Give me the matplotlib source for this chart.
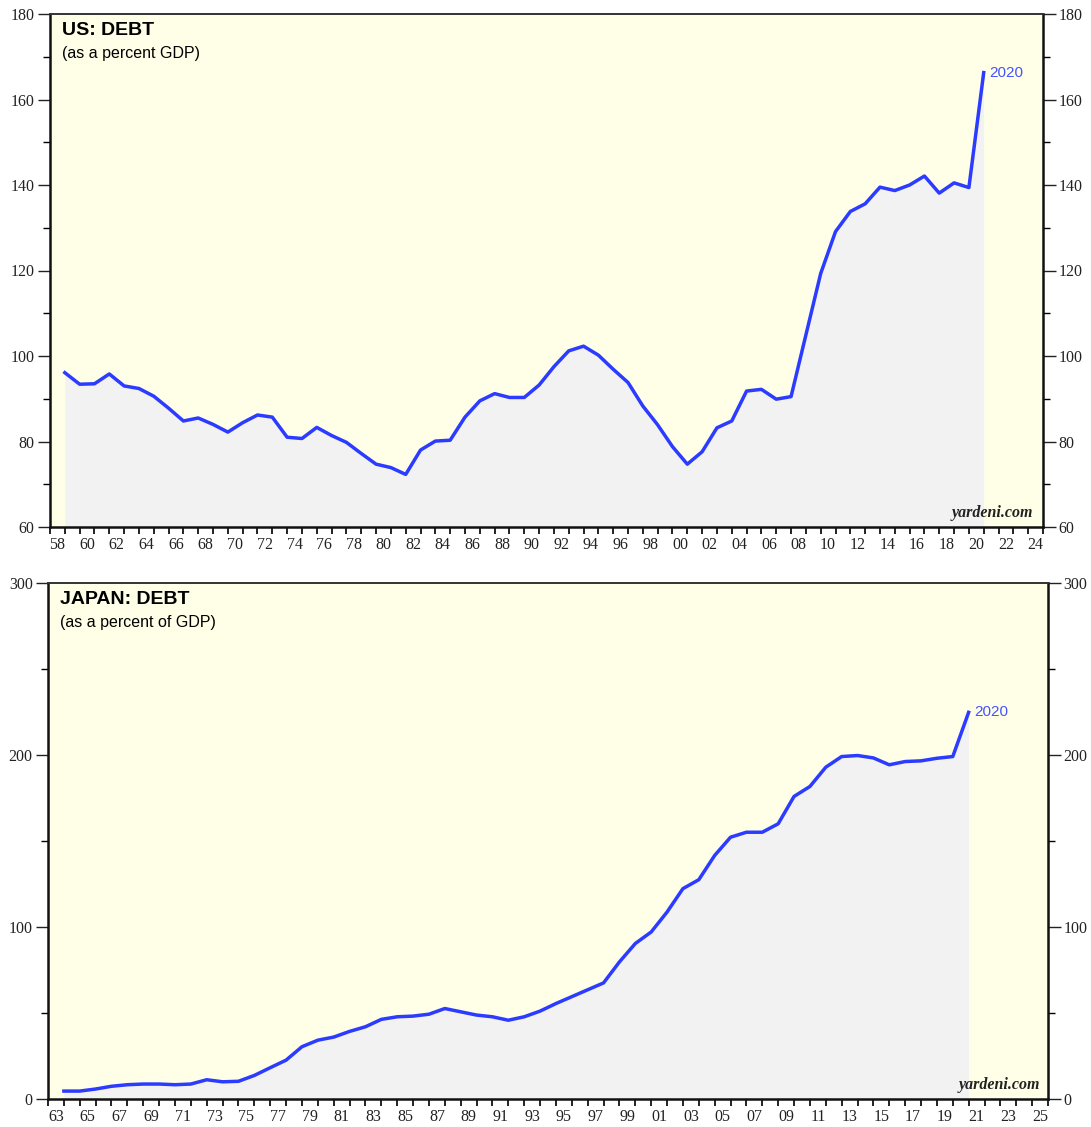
import numpy as np
import matplotlib
matplotlib.use("Agg")
import matplotlib.pyplot as plt
from matplotlib.ticker import MultipleLocator, FixedLocator, NullFormatter

# ---------------- data ----------------
us_years = list(range(1958, 2021))
us_debt = [96.1, 93.4, 93.5, 95.8, 93.0, 92.4, 90.6, 87.8, 84.8, 85.5,
           84.0, 82.2, 84.4, 86.2, 85.7, 81.0, 80.7, 83.3, 81.4, 79.8,
           77.2, 74.7, 73.9, 72.3, 78.0, 80.1, 80.3, 85.7, 89.5, 91.2,
           90.3, 90.3, 93.2, 97.5, 101.2, 102.3, 100.2, 96.9, 93.8, 88.3,
           83.9, 78.8, 74.7, 77.6, 83.2, 84.8, 91.8, 92.2, 89.9, 90.5,
           104.9, 119.3, 129.1, 133.8, 135.6, 139.5, 138.7, 140.0, 142.1, 138.1,
           140.5, 139.4, 166.3]

jp_years = list(range(1963, 2021))
jp_debt = [4.6, 4.6, 5.8, 7.4, 8.3, 8.7, 8.7, 8.3, 8.7, 11.2,
           10.0, 10.3, 13.7, 18.2, 22.6, 30.4, 34.2, 36.0, 39.3, 42.0,
           46.3, 47.8, 48.2, 49.3, 52.6, 50.7, 48.8, 47.8, 45.8, 47.8,
           51.1, 55.5, 59.5, 63.5, 67.5, 79.7, 90.4, 97.1, 108.7, 122.3,
           127.5, 141.6, 152.2, 155.1, 155.1, 160.0, 175.9, 181.7, 192.9, 199.1,
           199.7, 198.3, 194.3, 196.2, 196.6, 198.1, 199.1, 224.8]

us_title = "US: DEBT"
us_sub = "(as a percent GDP)"
jp_title = "JAPAN: DEBT"
jp_sub = "(as a percent of GDP)"
last_label = "2020"

# ---------------- style ----------------
BG = "#FFFFE8"
FILL = "#F2F2F2"
LINE = "#2B3BFF"
LBL = "#4353FF"
SERIF = "Liberation Serif"
SANS = "Liberation Sans"

fig = plt.figure(figsize=(10.91, 11.27), dpi=100)
fig.patch.set_facecolor("white")

W, H = 1091, 1127
def axes_px(l, t, r, b):
    return fig.add_axes([l / W, (H - b) / H, (r - l) / W, (b - t) / H])

ax1 = axes_px(50, 14, 1043, 527)
ax2 = axes_px(48, 583, 1048, 1099)


def style(ax, x0, x1, y0, y1, ymaj, ymin_, label_start):
    ax.set_facecolor(BG)
    ax.set_xlim(x0, x1)
    ax.set_ylim(y0, y1)
    for s in ax.spines.values():
        s.set_color("#111111")
        s.set_linewidth(1.8)
    ax.spines["top"].set_linewidth(1.4)
    ax.spines["top"].set_color("#333333")
    ax.yaxis.set_major_locator(MultipleLocator(ymaj))
    ax.yaxis.set_minor_locator(MultipleLocator(ymin_))
    ax.tick_params(axis="y", which="major", direction="out", length=9, width=1.0,
                   left=True, right=True, labelleft=True, labelright=True,
                   labelsize=11.5, colors="#222222", pad=2)
    ax.tick_params(axis="y", which="minor", direction="out", length=5, width=1.0,
                   left=True, right=True)
    yrs = np.arange(x0, x1 + 1)
    ax.xaxis.set_major_locator(FixedLocator(yrs))
    ax.xaxis.set_major_formatter(NullFormatter())
    ax.tick_params(axis="x", which="major", direction="out", length=5, width=1.3,
                   colors="#111111")
    lab_years = np.arange(label_start, x1, 2)
    ax.set_xticks(lab_years + 0.5, ["%02d" % (y % 100) for y in lab_years], minor=True)
    ax.tick_params(axis="x", which="minor", length=0, labelsize=11.5,
                   colors="#222222", pad=7)
    for t in ax.get_xticklabels(minor=True) + ax.get_yticklabels():
        t.set_fontfamily(SERIF)


def draw(ax, years, vals, y0):
    x = np.array(years) + 1.0  # plotted at year-end
    v = np.array(vals)
    ax.fill_between(x, v, y0, color=FILL, lw=0, zorder=1)
    ax.plot(x, v, color=LINE, lw=2.5, zorder=3)
    ax.annotate(last_label, (x[-1], v[-1]), xytext=(4, 0), textcoords="offset points",
                color=LBL, fontsize=11, fontfamily=SANS, va="center", ha="left")


style(ax1, 1958, 2025, 60, 180, 20, 10, 1958)
draw(ax1, us_years, us_debt, 60)
ax1.text(0.012, 0.985, us_title, transform=ax1.transAxes, fontsize=14,
         fontweight="bold", fontfamily=SANS, va="top", ha="left")
ax1.text(0.012, 0.938, us_sub, transform=ax1.transAxes, fontsize=11.5,
         fontfamily=SANS, va="top", ha="left")
ax1.text(0.99, 0.012, "yardeni.com", transform=ax1.transAxes, fontsize=11.5,
         fontstyle="italic", fontweight="bold", fontfamily=SERIF,
         va="bottom", ha="right", color="#222222")

style(ax2, 1963, 2026, 0, 300, 100, 50, 1963)
draw(ax2, jp_years, jp_debt, 0)
ax2.text(0.012, 0.985, jp_title, transform=ax2.transAxes, fontsize=14,
         fontweight="bold", fontfamily=SANS, va="top", ha="left")
ax2.text(0.012, 0.938, jp_sub, transform=ax2.transAxes, fontsize=11.5,
         fontfamily=SANS, va="top", ha="left")
ax2.text(0.992, 0.012, "yardeni.com", transform=ax2.transAxes, fontsize=11.5,
         fontstyle="italic", fontweight="bold", fontfamily=SERIF,
         va="bottom", ha="right", color="#222222")

fig.savefig("out.png", dpi=100, facecolor="white")
